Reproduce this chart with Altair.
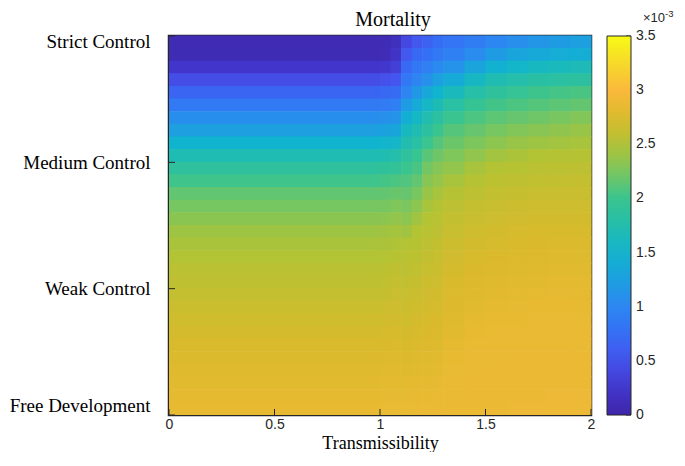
import json
import altair as alt
import pandas as pd

# ---- axis / tick data ----
x_ticks = [0, 0.5, 1, 1.5, 2]
y_ticks = [0, 1, 2, 3]
y_labels = ["Free Development", "Weak Control", "Medium Control", "Strict Control"]
cbar_ticks = [0, 0.5, 1, 1.5, 2, 2.5, 3, 3.5]
title_text = "Mortality"
x_title = "Transmissibility"

# colour bar (parula-like) stops, values in units of 1e-3
cbar_stops = [0.0, 0.25, 0.5, 0.75, 1.0, 1.25, 1.5, 1.75, 2.0, 2.25, 2.5, 2.75, 3.0, 3.25, 3.5]
cbar_colors = ["#3E26A8", "#4236CC", "#4653EE", "#356EF5", "#2D87F2", "#1CA0DF", "#10B4CF",
               "#24BEAB", "#3AC48F", "#7BC65E", "#B2C334", "#DABA2C", "#FBB93C", "#F5D92B", "#F9FB15"]

# grid of cells (transmissibility edges, control-level edges from top to bottom)
x_edges = [0.0, 1.0, 1.05, 1.1, 1.15, 1.2, 1.25, 1.3, 1.4, 1.5, 1.6, 1.7, 1.8, 1.9, 2.0]
y_edges = [3.0, 2.9, 2.8, 2.7, 2.6, 2.5, 2.4, 2.3, 2.2, 2.1, 2.0, 1.9, 1.8, 1.7, 1.6, 1.5,
           1.4, 1.3, 1.2, 1.1, 1.0, 0.9, 0.8, 0.7, 0.6, 0.5, 0.4, 0.3, 0.2, 0.1, 0.0]

# mortality (x1e-3) read per column, rows from top (Strict Control) to bottom (Free Development)
col_000_100 = [0.08, 0.09, 0.24, 0.45, 0.67, 0.87, 1.07, 1.24, 1.50, 1.69, 1.87, 2.02, 2.15, 2.23, 2.32,
               2.41, 2.46, 2.50, 2.55, 2.58, 2.61, 2.65, 2.68, 2.71, 2.74, 2.76, 2.79, 2.81, 2.83, 2.85]
col_100_105 = [0.08, 0.10, 0.26, 0.47, 0.69, 0.89, 1.09, 1.27, 1.52, 1.71, 1.89, 2.04, 2.16, 2.24, 2.33,
               2.42, 2.47, 2.51, 2.56, 2.59, 2.62, 2.66, 2.69, 2.72, 2.75, 2.77, 2.80, 2.82, 2.84, 2.86]
col_105_110 = [0.15, 0.20, 0.34, 0.52, 0.73, 0.93, 1.13, 1.33, 1.55, 1.75, 1.92, 2.07, 2.18, 2.27, 2.36,
               2.44, 2.49, 2.53, 2.58, 2.61, 2.64, 2.67, 2.70, 2.73, 2.76, 2.78, 2.80, 2.82, 2.84, 2.86]
col_110_115 = [0.40, 0.55, 0.70, 0.85, 0.98, 1.20, 1.43, 1.60, 1.73, 1.87, 2.00, 2.09, 2.17, 2.25, 2.33,
               2.42, 2.50, 2.54, 2.57, 2.60, 2.63, 2.66, 2.68, 2.71, 2.74, 2.77, 2.79, 2.82, 2.84, 2.86]
col_115_120 = [0.55, 0.70, 0.85, 0.98, 1.17, 1.38, 1.57, 1.70, 1.82, 1.98, 2.06, 2.15, 2.24, 2.33, 2.42,
               2.50, 2.53, 2.56, 2.59, 2.62, 2.65, 2.68, 2.71, 2.73, 2.76, 2.78, 2.80, 2.83, 2.85, 2.87]
col_120_125 = [0.64, 0.77, 0.92, 1.10, 1.35, 1.57, 1.72, 1.85, 2.00, 2.12, 2.22, 2.30, 2.38, 2.45, 2.51,
               2.54, 2.57, 2.60, 2.63, 2.66, 2.69, 2.71, 2.73, 2.75, 2.77, 2.79, 2.81, 2.83, 2.85, 2.87]
col_125_130 = [0.74, 0.86, 1.03, 1.25, 1.50, 1.68, 1.84, 2.00, 2.10, 2.20, 2.30, 2.37, 2.45, 2.51, 2.54,
               2.57, 2.60, 2.63, 2.65, 2.67, 2.70, 2.72, 2.74, 2.76, 2.78, 2.80, 2.82, 2.84, 2.86, 2.88]
col_130_140 = [0.82, 0.93, 1.12, 1.38, 1.63, 1.82, 2.00, 2.10, 2.19, 2.27, 2.36, 2.45, 2.52, 2.57, 2.60,
               2.63, 2.66, 2.69, 2.71, 2.74, 2.76, 2.77, 2.79, 2.81, 2.83, 2.85, 2.86, 2.87, 2.87, 2.88]
col_140_150 = [0.90, 1.05, 1.30, 1.58, 1.78, 1.96, 2.07, 2.17, 2.26, 2.35, 2.45, 2.52, 2.57, 2.61, 2.64,
               2.67, 2.70, 2.73, 2.75, 2.77, 2.79, 2.81, 2.83, 2.85, 2.86, 2.87, 2.87, 2.88, 2.88, 2.89]
col_150_160 = [1.00, 1.20, 1.46, 1.70, 1.88, 2.03, 2.13, 2.23, 2.33, 2.43, 2.51, 2.56, 2.60, 2.64, 2.67,
               2.70, 2.72, 2.75, 2.77, 2.79, 2.81, 2.83, 2.85, 2.86, 2.87, 2.87, 2.88, 2.88, 2.89, 2.89]
col_160_170 = [1.08, 1.30, 1.54, 1.76, 1.95, 2.07, 2.17, 2.28, 2.38, 2.47, 2.53, 2.58, 2.62, 2.66, 2.69,
               2.72, 2.74, 2.76, 2.78, 2.80, 2.82, 2.84, 2.85, 2.86, 2.87, 2.88, 2.88, 2.89, 2.89, 2.90]
col_170_180 = [1.15, 1.36, 1.60, 1.80, 2.01, 2.10, 2.20, 2.31, 2.41, 2.50, 2.55, 2.59, 2.63, 2.67, 2.70,
               2.73, 2.75, 2.77, 2.79, 2.81, 2.83, 2.85, 2.86, 2.87, 2.87, 2.88, 2.88, 2.89, 2.89, 2.90]
col_180_190 = [1.20, 1.40, 1.63, 1.83, 2.04, 2.13, 2.24, 2.34, 2.43, 2.51, 2.56, 2.60, 2.64, 2.67, 2.70,
               2.73, 2.76, 2.78, 2.80, 2.82, 2.84, 2.85, 2.86, 2.87, 2.88, 2.88, 2.89, 2.89, 2.90, 2.90]
col_190_200 = [1.25, 1.42, 1.66, 1.85, 2.06, 2.16, 2.28, 2.38, 2.45, 2.52, 2.57, 2.61, 2.64, 2.67, 2.70,
               2.73, 2.76, 2.78, 2.80, 2.82, 2.83, 2.85, 2.86, 2.87, 2.87, 2.88, 2.89, 2.89, 2.90, 2.90]

columns = [col_000_100, col_100_105, col_105_110, col_110_115, col_115_120, col_120_125,
           col_125_130, col_130_140, col_140_150, col_150_160, col_160_170, col_170_180,
           col_180_190, col_190_200]

records = []
for i, col in enumerate(columns):
    for j, v in enumerate(col):
        records.append({"x1": x_edges[i], "x2": x_edges[i + 1],
                        "y1": y_edges[j + 1], "y2": y_edges[j], "m": v})
df = pd.DataFrame(records)
cb_df = pd.DataFrame({"v": cbar_ticks})

x_scale = alt.Scale(domain=[0, 2], nice=False, zero=False)
y_scale = alt.Scale(domain=[0, 3], nice=False, zero=False)
cb_scale = alt.Scale(domain=[cbar_stops[0], cbar_stops[-1]], nice=False, zero=False)
color_scale = alt.Scale(domain=cbar_stops, range=cbar_colors, interpolate="rgb")

label_expr = json.dumps(y_labels) + "[datum.value]"

x_axis = alt.Axis(values=x_ticks, format="~g", ticks=False, domain=False, grid=False,
                  labelFlush=False, labelPadding=2, labelFont="Liberation Sans",
                  labelFontSize=14, labelColor="#262626",
                  titleFont="Liberation Serif", titleFontSize=18,
                  titleFontWeight="normal", titleColor="#000000",
                  titleBaseline="alphabetic", titleY=33)
y_axis = alt.Axis(values=y_ticks, ticks=False, domain=False, grid=False,
                  labelExpr=label_expr, labelFlush=True, labelOverlap=False,
                  labelOffset={"condition": {"test": "datum.value == 3", "value": -4}, "value": 0},
                  labelPadding=19, labelFont="Liberation Serif", labelFontSize=19,
                  labelColor="#000000", labelLimit=400)

heat = alt.Chart(df).mark_rect(x2Offset=0.6, y2Offset=-0.6).encode(
    x=alt.X("x1:Q", scale=x_scale, title=x_title, axis=x_axis),
    x2="x2:Q",
    y=alt.Y("y1:Q", scale=y_scale, title="", axis=y_axis),
    y2="y2:Q",
    color=alt.Color("m:Q", scale=color_scale, title=None,
                    legend=alt.Legend(type="gradient", orient="none", legendX=438, legendY=0,
                                      direction="vertical", gradientLength=379,
                                      gradientThickness=24, labelExpr="''",
                                      gradientStrokeColor="#262626", gradientStrokeWidth=1,
                                      padding=0)),
)

xt = alt.Chart(pd.DataFrame({"t": x_ticks})).mark_rule(color="#262626", strokeWidth=1).encode(
    x=alt.X("t:Q", scale=x_scale, title=x_title, axis=x_axis),
    y=alt.value(379), y2=alt.value(373),
)
yt = alt.Chart(pd.DataFrame({"t": y_ticks})).mark_rule(color="#262626", strokeWidth=1).encode(
    y=alt.Y("t:Q", scale=y_scale, axis=None),
    x=alt.value(0), x2=alt.value(6),
)

# colour-bar tick labels and tick marks, placed through their own 0..3.5 scale
cb_labels = alt.Chart(cb_df).mark_text(
    align="left", baseline="middle", font="Liberation Sans", fontSize=14, color="#262626"
).encode(y=alt.Y("v:Q", scale=cb_scale, axis=None), x=alt.value(467),
         text=alt.Text("v:Q", format="~g"))
cb_marks = alt.Chart(cb_df).mark_rule(color="#262626", strokeWidth=1).encode(
    y=alt.Y("v:Q", scale=cb_scale, axis=None), x=alt.value(457), x2=alt.value(462))

title_mark = alt.Chart(alt.Data(values=[{"t": title_text}])).mark_text(
    align="center", baseline="alphabetic", font="Liberation Serif", fontSize=20, color="#000000"
).encode(text="t:N", x=alt.value(224), y=alt.value(-10))
exp_base = alt.Chart(alt.Data(values=[{"t": "\u00d710"}])).mark_text(
    align="left", baseline="alphabetic", font="Liberation Sans", fontSize=13, color="#262626"
).encode(text="t:N", x=alt.value(474), y=alt.value(-14))
exp_pow = alt.Chart(alt.Data(values=[{"t": "-3"}])).mark_text(
    align="left", baseline="alphabetic", font="Liberation Sans", fontSize=9.5, color="#262626"
).encode(text="t:N", x=alt.value(496), y=alt.value(-19))

chart = alt.layer(heat, xt, yt, cb_labels, cb_marks, title_mark, exp_base, exp_pow).resolve_scale(
    y="independent"
).properties(
    width=422, height=379,
    padding={"left": 161, "top": 28, "right": 86, "bottom": 37},
    autosize=alt.AutoSizeParams(type="none"),
).configure_view(stroke="#262626", strokeWidth=2.5)

chart.save("out.html", embed_options={"renderer": "svg", "actions": False})
